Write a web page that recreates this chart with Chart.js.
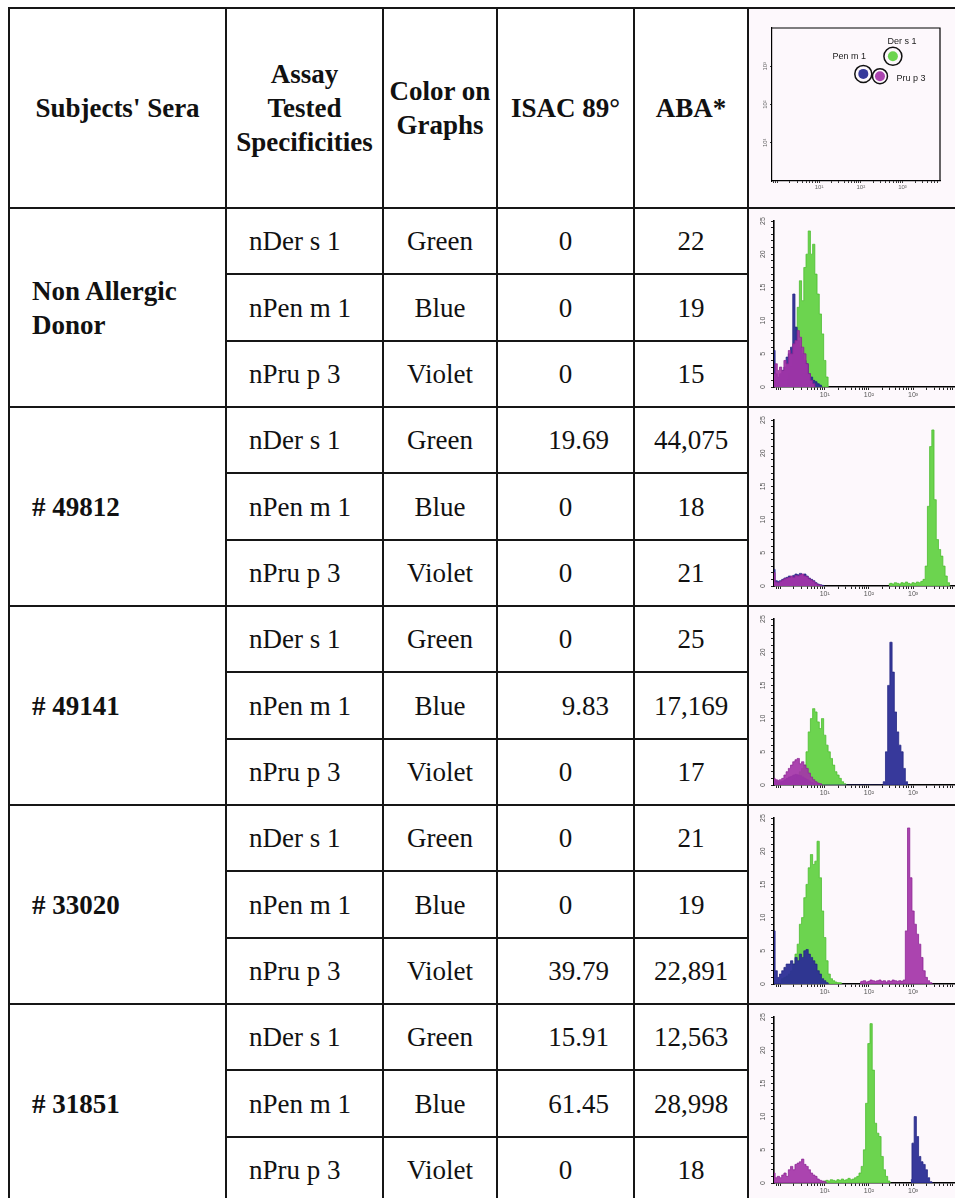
<!DOCTYPE html>
<html>
<head>
<meta charset="utf-8">
<script src="https://cdn.jsdelivr.net/npm/chart.js@4.4.0/dist/chart.umd.min.js"></script>
<style>
html, body { margin:0; padding:0; width:955px; height:1198px; overflow:hidden; background:#ffffff; }
.cell { position:absolute; box-sizing:border-box; border:2px solid #161616; display:flex; align-items:center;
        font-family:'Liberation Serif','Times New Roman',serif; font-size:27px; color:#111; line-height:34px; white-space:pre-line; }
.head { font-weight:bold; justify-content:center; text-align:center; }
.subj { font-weight:bold; justify-content:flex-start; padding-left:22px; }
.spec { justify-content:flex-start; padding-left:22px; }
.ctr  { justify-content:center; text-align:center; }
.dec  { justify-content:flex-end; padding-right:24px; }
.graph { background:#fdf8fc; }
.graph canvas { position:absolute; left:0; top:0; }
</style>
</head>
<body>
<script>
// ---------------- table data ----------------
const headers = ["Subjects' Sera", "Assay\nTested\nSpecificities", "Color on\nGraphs", "ISAC 89°", "ABA*"];
const subjects = ["Non Allergic\nDonor", "# 49812", "# 49141", "# 33020", "# 31851"];
const specificities = ["nDer s 1", "nPen m 1", "nPru p 3"];
const graphColors = ["Green", "Blue", "Violet"];
const isacValues = [["0","0","0"], ["19.69","0","0"], ["0","9.83","0"], ["0","0","39.79"], ["15.91","61.45","0"]];
const abaValues = [["22","19","15"], ["44,075","18","21"], ["25","17,169","17"], ["21","19","22,891"], ["12,563","28,998","18"]];

// ---------------- histogram data (counts per bin; bin channel in decades = binStart + index*binStep) ----------------
const binStart = -0.15, binStep = 0.05;
const histXMin = -0.15, histXMax = 3.95;
const histYMax = 25;

const nonAllergicGreenFrom = 6;
const nonAllergicGreen = [1,2,3,5,9,12,16,13,18,20,23.5,20,21.5,17,14,11,8,4,1.5,0];
const nonAllergicBlueFrom = 0;
const nonAllergicBlue = [5.5,2,1.5,2,2.5,3,4.5,5,6,14,9,7,6,5,4,3.5,2,1.5,1,0.8,0.5,0.3,0];
const nonAllergicVioletFrom = 0;
const nonAllergicViolet = [2,3.5,2.5,3,2.5,4,3.5,5.5,5,6.5,7,8.5,7.5,6,5,3.5,2,1,0.5,0];

const s49812GreenFrom = 52;
const s49812Green = [0.3,0.4,0.3,0.5,0.4,0.3,0.5,0.4,0.6,0.4,0.3,0.5,0.4,0.6,0.5,0.7,1,3,12,21,23.5,13,7,5.5,4.5,3,1.5,0.5,0];
const s49812BlueFrom = 0;
const s49812Blue = [2.5,0.8,0.7,0.8,1,1.2,1.3,1.5,1.4,1.6,1.8,1.7,1.9,1.6,1.8,1.5,1.2,1,0.8,0.5,0.3,0.2,0.1,0];
const s49812VioletFrom = 0;
const s49812Violet = [2,0.6,0.5,0.7,0.9,1.1,1.2,1.3,1.5,1.3,1.6,1.5,1.7,1.8,1.5,1.4,1.1,0.9,0.7,0.4,0.2,0.1,0];

const s49141GreenFrom = 8;
const s49141Green = [0.5,0.8,1,1.5,2,2.5,3,5,8,10,11.5,11,9.5,8.5,10,7.5,6,5,4,3,2,1.5,1,0.5,0.2,0];
const s49141BlueFrom = 0;
const s49141Blue = [0.8,0.6,0.5,0.5,0.6,0.8,1,1.2,1.3,1.5,1.6,1.5,1.4,1.2,1,0.8,0.6,0.4,0.3,0.2,0.1,
                    0,0,0,0,0,0,0,0,0,0,0,0,0,0,0,0,0,0,0,0,0,0,0,0,0,0,0,0,0,
                    0.5,5,15,21.5,17,11,8,6,5,2.5,0.5,0];
const s49141VioletFrom = 0;
const s49141Violet = [1,0.8,0.7,0.8,1,1.5,2,2.5,3,3.5,3.8,4,3.2,3.5,3,2.5,1.8,1.2,0.8,0.5,0.3,0.2,0];

const s33020GreenFrom = 3;
const s33020Green = [0.5,0.8,1,1.2,1.5,2,3,4.5,6,9,10,13,15,17.5,19.5,18,18.5,21.5,16,11,7,3.5,1.5,0.8,0.5,0.3,0.2,0.2,0];
const s33020BlueFrom = 0;
const s33020Blue = [8,2,1,1.5,2,2.5,3,3,3.5,3,4,3.5,4.5,4,5,5.2,4.5,4,3.5,3,2,1.5,0.8,0.5,0.2,0];
const s33020VioletFrom = 39;
const s33020Violet = [0.3,0.4,0.5,0.3,0.4,0.6,0.5,0.4,0.5,0.6,0.4,0.5,0.3,0.5,0.4,0.6,0.5,0.4,0.5,0.4,0.6,8,23.5,16,11,9,7.5,6,4,2,1,0.5,0.2,0];

const s31851GreenFrom = 22;
const s31851Green = [0.2,0.3,0.4,0.3,0.5,0.4,0.3,0.5,0.4,0.6,0.4,0.5,0.7,0.5,0.6,0.8,1,1.5,2.5,5,12,21,24,17,9,7.5,7,4,2,1,0.3,0];
const s31851BlueFrom = 62;
const s31851Blue = [0.5,6,10,7,4,3.2,2.8,2,0.8,0.2,0];
const s31851VioletFrom = 0;
const s31851Violet = [1.5,0.8,1,0.8,1.2,1.5,1,2,2.5,2,2.8,3,3.2,3.6,2.8,2.5,2,1.5,1.2,1,0.6,0.4,0.3,0.2,0];

// axis tick labels
const xTickDecades = [1, 2, 3];
const xTickLabels = ["10\u00b9", "10\u00b2", "10\u00b3"];
const yTickValues = [0, 5, 10, 15, 20, 25];
const yTickLabels = ["0", "5", "10", "15", "20", "25"];

// header dot-plot populations (decades)
const popNames = ["Der s 1", "Pen m 1", "Pru p 3"];
const popX = [2.77, 2.06, 2.46];
const popY = [3.26, 2.80, 2.74];
const scatterYDecades = [1, 2, 3];
const scatterYLabels = ["10\u00b9", "10\u00b2", "10\u00b3"];

// ---------------- styles ----------------
const fillColors = { green: "rgba(100,210,70,0.95)", blue: "rgba(44,46,150,0.95)", violet: "rgba(164,52,168,0.92)" };
const lineColors = { green: "#4cbc30", blue: "#252784", violet: "#8d2594" };

// ---------------- table layout ----------------
const colX = [9, 226, 383, 497, 634, 748, 966];
const headTop = 8, headBottom = 208, groupH = 199;

function cell(x0, y0, x1, y1, text, cls) {
  const d = document.createElement("div");
  d.className = "cell " + cls;
  d.style.left = (x0 - 1) + "px";
  d.style.top = (y0 - 1) + "px";
  d.style.width = (x1 - x0 + 2) + "px";
  d.style.height = (y1 - y0 + 2) + "px";
  if (text != null) { const s = document.createElement("span"); s.textContent = text; d.appendChild(s); }
  document.body.appendChild(d);
  return d;
}

headers.forEach((h, i) => cell(colX[i], headTop, colX[i + 1], headBottom, h, "head"));
const headGraph = cell(colX[5], headTop, colX[6], headBottom, null, "graph");

const graphCells = [];
subjects.forEach((s, g) => {
  const gTop = headBottom + g * groupH;
  const gBot = gTop + groupH;
  cell(colX[0], gTop, colX[1], gBot, s, "subj");
  for (let r = 0; r < 3; r++) {
    const y0 = Math.round(gTop + r * groupH / 3);
    const y1 = Math.round(gTop + (r + 1) * groupH / 3);
    cell(colX[1], y0, colX[2], y1, specificities[r], "spec");
    cell(colX[2], y0, colX[3], y1, graphColors[r], "ctr");
    const v = isacValues[g][r];
    cell(colX[3], y0, colX[4], y1, v, v.indexOf(".") >= 0 ? "dec" : "ctr");
    cell(colX[4], y0, colX[5], y1, abaValues[g][r], "ctr");
  }
  graphCells.push(cell(colX[5], gTop, colX[6], gBot, null, "graph"));
});

// ---------------- chart helpers ----------------
function addCanvas(div, w, h) {
  const c = document.createElement("canvas");
  c.width = w; c.height = h;
  c.style.width = w + "px"; c.style.height = h + "px";
  div.appendChild(c);
  return c;
}

function logTicks(scale) {
  const t = [];
  for (let d = -1; d <= 4; d++) {
    for (let k = 1; k <= 9; k++) {
      const v = d + Math.log10(k);
      if (v >= scale.min - 1e-9 && v <= scale.max + 1e-9) t.push({ value: v });
    }
  }
  scale.ticks = t;
}
function decadeLabel(value) {
  const r = Math.round(value);
  if (Math.abs(value - r) < 1e-6) {
    const i = xTickDecades.indexOf(r);
    if (i >= 0) return xTickLabels[i];
  }
  return "";
}

const rotatedYLabels = {
  id: "rotatedYLabels",
  afterDraw(chart, args, opts) {
    const s = chart.scales.y, ctx = chart.ctx;
    ctx.save();
    ctx.font = opts.font;
    ctx.fillStyle = opts.color;
    ctx.textAlign = "center";
    ctx.textBaseline = "middle";
    opts.values.forEach((v, i) => {
      ctx.save();
      ctx.translate(s.right - opts.offset, s.getPixelForValue(v));
      ctx.rotate(-Math.PI / 2);
      ctx.fillText(opts.labels[i], 0, 0);
      ctx.restore();
    });
    ctx.restore();
  }
};

function series(from, counts, key, order) {
  return {
    data: counts.map((c, i) => ({ x: binStart + (from + i) * binStep, y: c })),
    fill: "origin",
    backgroundColor: fillColors[key],
    borderColor: lineColors[key],
    borderWidth: 0.8,
    pointRadius: 0,
    stepped: "middle",
    order: order
  };
}

function histogram(div, green, blue, violet) {
  const canvas = addCanvas(div, 206, 197);
  new Chart(canvas, {
    type: "line",
    data: { datasets: [
      series(violet[0], violet[1], "violet", 1),
      series(blue[0], blue[1], "blue", 2),
      series(green[0], green[1], "green", 3)
    ] },
    options: {
      responsive: false, animation: false, events: [],
      layout: { padding: { top: 12, right: 0, bottom: 0, left: 0 } },
      plugins: {
        legend: { display: false }, tooltip: { enabled: false },
        rotatedYLabels: { values: yTickValues, labels: yTickLabels, font: "7px 'Liberation Sans', Arial, sans-serif", color: "#555", offset: 11 }
      },
      scales: {
        x: {
          type: "linear", min: histXMin, max: histXMax,
          afterBuildTicks: logTicks,
          afterFit: s => { s.height = 19; },
          ticks: { autoSkip: false, maxRotation: 0, minRotation: 0, padding: 1, color: "#555",
                   font: { size: 7, family: "'Liberation Sans', Arial, sans-serif" }, callback: decadeLabel },
          grid: { display: true, drawOnChartArea: false, drawTicks: true, tickLength: 3, tickColor: "#222", tickWidth: 1 },
          border: { display: true, color: "#000", width: 1.6 }
        },
        y: {
          min: 0, max: histYMax,
          afterFit: s => { s.width = 25; },
          ticks: { stepSize: 1, display: false, autoSkip: false },
          grid: { display: true, drawOnChartArea: false, drawTicks: true, tickLength: 3, tickColor: "#222", tickWidth: 1 },
          border: { display: true, color: "#000", width: 1.6 }
        }
      }
    },
    plugins: [rotatedYLabels]
  });
}

histogram(graphCells[0], [nonAllergicGreenFrom, nonAllergicGreen], [nonAllergicBlueFrom, nonAllergicBlue], [nonAllergicVioletFrom, nonAllergicViolet]);
histogram(graphCells[1], [s49812GreenFrom, s49812Green], [s49812BlueFrom, s49812Blue], [s49812VioletFrom, s49812Violet]);
histogram(graphCells[2], [s49141GreenFrom, s49141Green], [s49141BlueFrom, s49141Blue], [s49141VioletFrom, s49141Violet]);
histogram(graphCells[3], [s33020GreenFrom, s33020Green], [s33020BlueFrom, s33020Blue], [s33020VioletFrom, s33020Violet]);
histogram(graphCells[4], [s31851GreenFrom, s31851Green], [s31851BlueFrom, s31851Blue], [s31851VioletFrom, s31851Violet]);

// ---------------- header dot plot ----------------
const popKeys = ["green", "blue", "violet"];
const ringRadius = [9, 8.5, 7.5];
const labelOffsets = [[9, -15], [-14, -17], [31, 2]];

const frameAndLabels = {
  id: "frameAndLabels",
  afterDraw(chart) {
    const ctx = chart.ctx, a = chart.chartArea;
    ctx.save();
    ctx.strokeStyle = "#000"; ctx.lineWidth = 1.2;
    ctx.beginPath();
    ctx.moveTo(a.left, a.top); ctx.lineTo(a.right, a.top); ctx.lineTo(a.right, a.bottom);
    ctx.stroke();
    ctx.font = "9px 'Liberation Sans', Arial, sans-serif";
    ctx.fillStyle = "#222"; ctx.textAlign = "center"; ctx.textBaseline = "middle";
    popNames.forEach((n, i) => {
      const px = chart.scales.x.getPixelForValue(popX[i]);
      const py = chart.scales.y.getPixelForValue(popY[i]);
      ctx.fillText(n, px + labelOffsets[i][0], py + labelOffsets[i][1]);
    });
    ctx.restore();
  }
};

(function () {
  const canvas = addCanvas(headGraph, 206, 198);
  new Chart(canvas, {
    type: "scatter",
    data: { datasets: [
      { data: popX.map((x, i) => ({ x: x, y: popY[i] })), pointRadius: ringRadius, pointBackgroundColor: "rgba(0,0,0,0)",
        pointBorderColor: "#111", pointBorderWidth: 1.5, order: 1 },
      { data: popX.map((x, i) => ({ x: x, y: popY[i] })), pointRadius: 5, pointBorderWidth: 0,
        pointBackgroundColor: popKeys.map(k => fillColors[k]), order: 2 }
    ] },
    options: {
      responsive: false, animation: false, events: [],
      layout: { padding: { top: 19, right: 15, bottom: 0, left: 0 } },
      plugins: {
        legend: { display: false }, tooltip: { enabled: false },
        rotatedYLabels: { values: scatterYDecades, labels: scatterYLabels, font: "6px 'Liberation Sans', Arial, sans-serif", color: "#666", offset: 7 }
      },
      scales: {
        x: {
          type: "linear", min: -0.13, max: 3.9,
          afterBuildTicks: logTicks,
          afterFit: s => { s.height = 26; },
          ticks: { autoSkip: false, maxRotation: 0, minRotation: 0, padding: 1, color: "#666",
                   font: { size: 6, family: "'Liberation Sans', Arial, sans-serif" }, callback: decadeLabel },
          grid: { display: true, drawOnChartArea: false, drawTicks: true, tickLength: 2, tickColor: "#333", tickWidth: 1 },
          border: { display: true, color: "#000", width: 1.2 }
        },
        y: {
          type: "linear", min: 0, max: 4,
          afterBuildTicks: s => { s.ticks = scatterYDecades.map(v => ({ value: v })); },
          afterFit: s => { s.width = 23; },
          ticks: { display: false },
          grid: { display: true, drawOnChartArea: false, drawTicks: true, tickLength: 2, tickColor: "#333", tickWidth: 1 },
          border: { display: true, color: "#000", width: 1.2 }
        }
      }
    },
    plugins: [rotatedYLabels, frameAndLabels]
  });
})();
</script>
</body>
</html>
